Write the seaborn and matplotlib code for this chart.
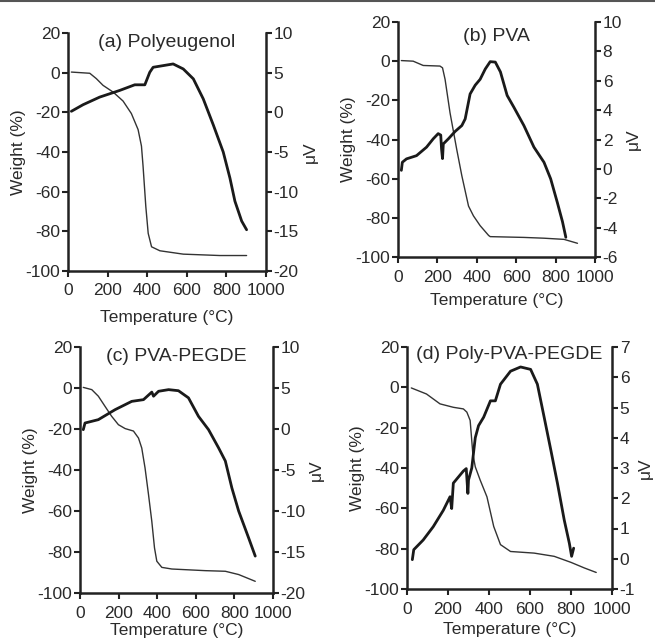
import numpy as np
import pandas as pd
import matplotlib
matplotlib.use("Agg")
import matplotlib.pyplot as plt
import seaborn as sns
from matplotlib.lines import Line2D

# ---------------- data ----------------
temp_ticks = [0, 200, 400, 600, 800, 1000]
wt_ticks = [-100, -80, -60, -40, -20, 0, 20]

# (a) Polyeugenol
a_wt_T = [17, 110, 143, 177, 228, 278, 320, 354, 371, 379, 393, 405, 422, 464, 582, 767, 902]
a_wt = [0.3, -0.3, -3, -6.4, -9.8, -14.3, -20.6, -28.7, -37, -47, -67.5, -81, -87.8, -89.8, -91.5, -92.2, -92.2]
a_uv_T = [17, 76, 160, 261, 337, 388, 413, 430, 481, 531, 582, 633, 683, 734, 784, 818, 843, 877, 902]
a_uv = [0.13, 0.96, 1.92, 2.76, 3.47, 3.47, 5.05, 5.68, 5.89, 6.1, 5.47, 4.22, 1.7, -1.6, -5, -8.3, -11.2, -13.7, -14.8]
a_uv_ticks = [-20, -15, -10, -5, 0, 5, 10]

# (b) PVA
b_wt_T = [17, 77, 128, 213, 226, 239, 264, 298, 324, 358, 383, 417, 460, 468, 639, 741, 843, 911]
b_wt = [0.3, 0, -2.2, -2.5, -3.4, -9.3, -26.3, -45, -58.5, -74, -79, -84, -89, -89.6, -90, -90.4, -91, -93]
b_uv_T = [17, 22, 43, 94, 145, 179, 204, 217, 221, 226, 230, 256, 290, 324, 341, 366, 392, 417, 443, 468,
          494, 520, 554, 588, 639, 690, 741, 775, 809, 835, 852]
b_uv = [-0.1, 0.45, 0.68, 0.9, 1.48, 2.05, 2.4, 2.3, 1.36, 0.7, 1.7, 2.05, 2.55, 2.95, 3.4, 5.1, 5.7, 6.1, 6.8, 7.3,
        7.27, 6.6, 5.0, 4.2, 2.95, 1.48, 0.45, -0.68, -2.3, -3.6, -4.66]
b_uv_ticks = [-6, -4, -2, 0, 2, 4, 6, 8, 10]

# (c) PVA-PEGDE
c_wt_T = [17, 61, 95, 130, 164, 199, 234, 277, 303, 320, 337, 355, 372, 386, 398, 424, 476, 649, 753, 822, 908]
c_wt = [0.3, -0.8, -4, -9, -13.8, -17.9, -19.8, -21, -24.4, -29.3, -39, -52, -65, -78, -84.5, -87.5, -88.3,
        -89.1, -89.4, -91, -94.3]
c_uv_T = [17, 26, 95, 182, 268, 329, 372, 381, 407, 459, 510, 562, 614, 666, 718, 753, 787, 822, 874, 908]
c_uv = [-0.08, 0.73, 1.14, 2.36, 3.37, 3.58, 4.5, 4.0, 4.6, 4.8, 4.67, 3.8, 1.54, -0.08, -2.3, -3.9, -7.2,
        -10, -13.3, -15.5]
c_uv_ticks = [-20, -15, -10, -5, 0, 5, 10]

# (d) Poly-PVA-PEGDE
d_wt_T = [21, 95, 161, 226, 275, 292, 308, 321, 333, 357, 390, 423, 456, 505, 620, 718, 800, 866, 923]
d_wt = [-0.3, -3.3, -8.2, -9.9, -10.7, -12.3, -16.4, -32.8, -39.4, -46, -54.3, -69, -78, -81.4, -82.2,
        -83.8, -86.8, -89.6, -91.8]
d_uv_T = [26, 33, 79, 128, 177, 210, 218, 226, 275, 289, 297, 300, 316, 333, 349, 374, 407, 431, 456, 505,
          554, 603, 636, 669, 702, 734, 767, 792, 803, 813]
d_uv = [-0.03, 0.3, 0.62, 1.06, 1.6, 2.05, 1.66, 2.5, 2.9, 2.98, 2.16, 2.6, 3.0, 4.0, 4.4, 4.68, 5.22, 5.22,
        5.77, 6.2, 6.34, 6.26, 5.77, 4.68, 3.58, 2.49, 1.28, 0.51, 0.08, 0.35]
d_uv_ticks = [-1, 0, 1, 2, 3, 4, 5, 6, 7]

titles = ["(a) Polyeugenol", "(b) PVA", "(c) PVA-PEGDE", "(d) Poly-PVA-PEGDE"]

# ---------------- style ----------------
sns.set_style("ticks")
plt.rcParams['font.family'] = ['Liberation Sans', 'DejaVu Sans']
plt.rcParams['axes.unicode_minus'] = False

INK = "#222222"
TXT = "#2a2a2a"

fig = plt.figure(figsize=(6.55, 6.44), dpi=100)

# panel rectangles in figure fractions (left, bottom, width, height)
rects = [
    (68 / 655, 1 - 271 / 644, 198 / 655, 238 / 644),
    (398 / 655, 1 - 257 / 644, 197 / 655, 235 / 644),
    (80 / 655, 1 - 593 / 644, 193 / 655, 246 / 644),
    (407 / 655, 1 - 589 / 644, 205 / 655, 242 / 644),
]
panels = [
    (a_wt_T, a_wt, a_uv_T, a_uv, a_uv_ticks),
    (b_wt_T, b_wt, b_uv_T, b_uv, b_uv_ticks),
    (c_wt_T, c_wt, c_uv_T, c_uv, c_uv_ticks),
    (d_wt_T, d_wt, d_uv_T, d_uv, d_uv_ticks),
]
title_y = [0.995, 0.975, 0.995, 1.005]
xlab_pad = [8, 6, 2, 4]
rlab_pad = [3, 3, 2, 2]

for i, (rect, (wT, w, uT, u, uticks)) in enumerate(zip(rects, panels)):
    ax = fig.add_axes(rect)
    ax2 = ax.twinx()
    dfw = pd.DataFrame({"T": wT, "w": w})
    dfu = pd.DataFrame({"T": uT, "u": u})
    sns.lineplot(data=dfw, x="T", y="w", ax=ax, color="#333333", lw=1.0)
    sns.lineplot(data=dfu, x="T", y="u", ax=ax2, color="#1a1a1a", lw=2.0)

    ax.set_xlim(0, 1000)
    ax.set_ylim(-100, 20)
    ax.set_xticks(temp_ticks)
    ax.set_yticks(wt_ticks)
    ax2.set_ylim(uticks[0], uticks[-1])
    ax2.set_yticks(uticks)

    ax.set_xlabel("Temperature (°C)", fontsize=12.5, color=TXT, labelpad=xlab_pad[i])
    ax.set_ylabel("Weight (%)", fontsize=12.5, color=TXT, labelpad=0)
    ax2.set_ylabel("μV", fontsize=12.5, color=TXT, labelpad=rlab_pad[i])

    for s in ["top", "right"]:
        ax.spines[s].set_visible(False)
    for s in ["top", "left", "bottom"]:
        ax2.spines[s].set_visible(False)
    for s in ["left", "bottom"]:
        ax.spines[s].set_linewidth(1.8)
        ax.spines[s].set_color(INK)
    ax2.spines["right"].set_linewidth(1.8)
    ax2.spines["right"].set_color(INK)

    ax.tick_params(axis="both", direction="out", length=4, width=1.5, color=INK,
                   labelsize=12.5, labelcolor=TXT, pad=1.5)
    ax.tick_params(axis="x", pad=5)
    ax2.tick_params(axis="y", direction="out", length=4, width=1.5, color=INK,
                    labelsize=12.5, labelcolor=TXT, pad=1.5)

    ax.text(0.5, title_y[i], titles[i], transform=ax.transAxes, ha="center", va="top",
            fontsize=14, color=TXT)

# thin frame line at the top edge of the image
fig.add_artist(Line2D([0, 1], [0.998, 0.998], transform=fig.transFigure, color="#555555", lw=1.5))

fig.savefig("out.png", dpi=100)
